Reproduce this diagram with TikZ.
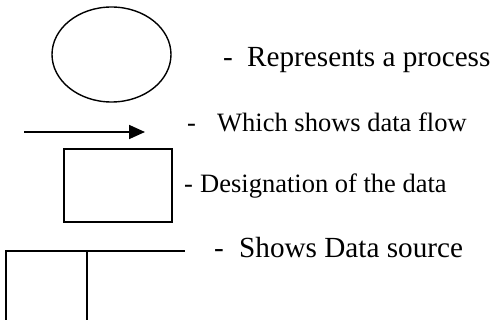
\documentclass[tikz,border=0pt]{standalone}
\usepackage{fontspec}
\setmainfont{Liberation Serif}
\usetikzlibrary{shapes.geometric,arrows.meta}
\begin{document}
\begin{tikzpicture}[x=1pt,y=-1pt,
  shapeline/.style={draw=black,line width=1.4pt},
  bigtext/.style={anchor=base west,inner sep=0pt,font=\fontsize{29.2}{29}\selectfont},
  smalltext/.style={anchor=base west,inner sep=0pt,font=\fontsize{26.5}{26}\selectfont},
  flow/.style={line width=1.7pt,-{Triangle[length=16pt,width=14pt]}}]
  \useasboundingbox (0,0) rectangle (493,320);

  % process symbol
  \node[shapeline,ellipse,minimum width=119pt,minimum height=95pt,inner sep=0pt] (proc) at (111.5,54.5) {};
  \node[bigtext] (procdash) at (223,67) {-};
  \node[bigtext] (proclabel) at (247,67) {Represents a process};

  % data flow symbol
  \coordinate (flowstart) at (24,132);
  \coordinate (flowend) at (145,132);
  \draw[flow] (flowstart) -- (flowend);
  \node[smalltext] (flowdash) at (187,132) {-};
  \node[smalltext] (flowlabel) at (217,132) {Which shows data flow};

  % data designation symbol
  \node[shapeline,line width=1.2pt,rectangle,minimum width=108pt,minimum height=73pt,inner sep=0pt] (store) at (118,185.5) {};
  \node[smalltext] (storedash) at (184,193) {-};
  \node[smalltext] (storelabel) at (200,193) {Designation of the data};

  % data source symbol (open at the bottom)
  \coordinate (srcbl) at (6,322);
  \coordinate (srctl) at (6,251);
  \coordinate (srcmid) at (87,251);
  \coordinate (srcmidb) at (87,322);
  \coordinate (srcend) at (185,251);
  \draw[line width=1.2pt] (srcbl) -- (srctl) -- (srcmid) -- (srcend);
  \draw[line width=1.2pt] (srcmid) -- (srcmidb);
  \node[bigtext] (srcdash) at (214,258) {-};
  \node[bigtext] (srclabel) at (239,258) {Shows Data source};
\end{tikzpicture}
\end{document}
